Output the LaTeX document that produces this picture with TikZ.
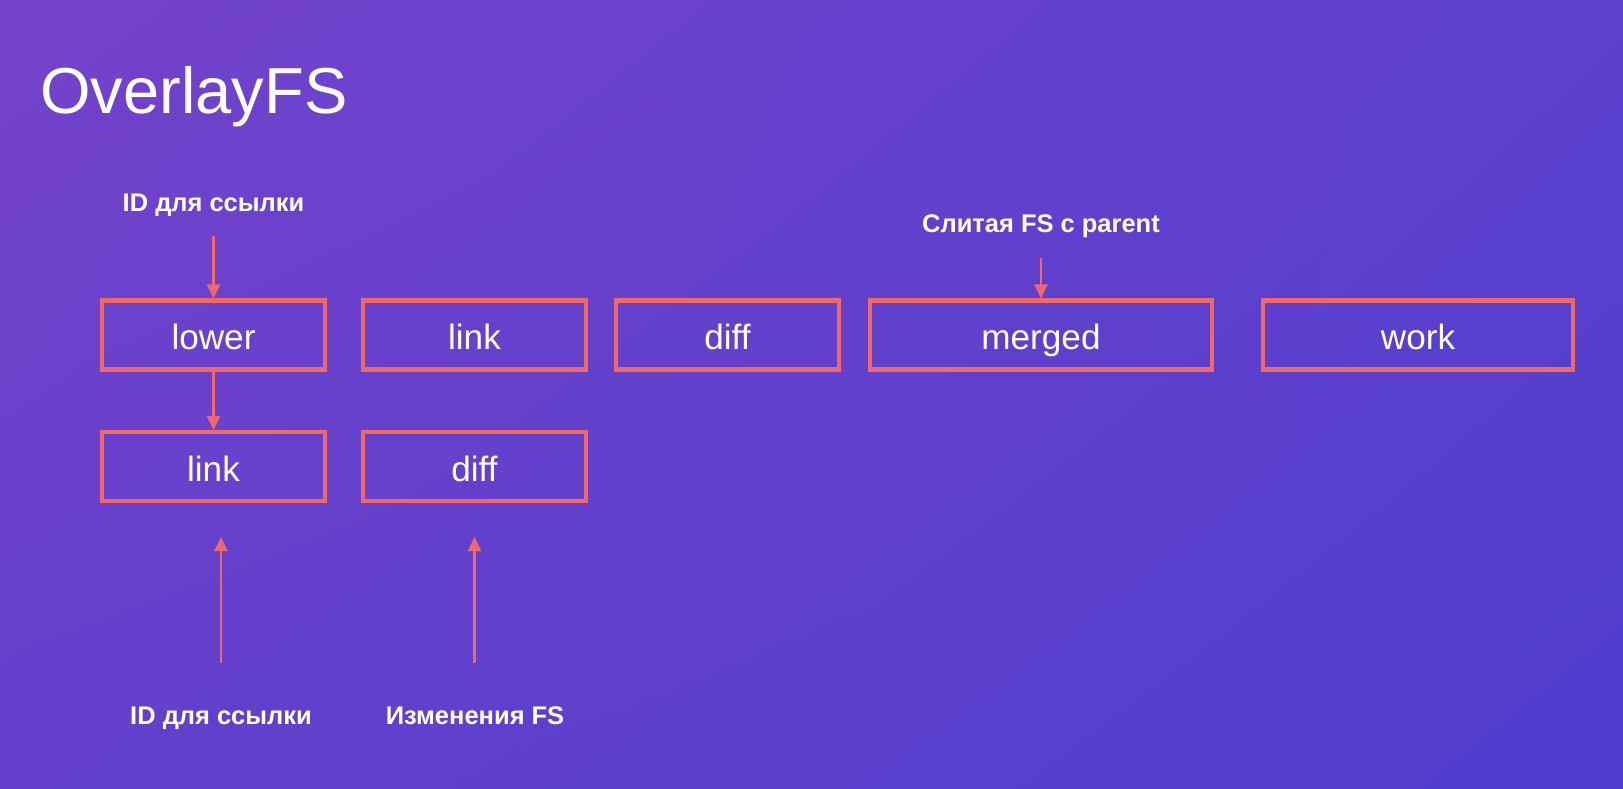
\documentclass[tikz,border=0pt]{standalone}
\usepackage{fontspec}
\setmainfont{Liberation Sans}
\usepackage{tikz}
\usetikzlibrary{arrows.meta, positioning, shadings}
\definecolor{bgtl}{RGB}{116,67,203}
\definecolor{bgtr}{RGB}{92,64,206}
\definecolor{bgbl}{RGB}{100,64,204}
\definecolor{bgbr}{RGB}{80,62,206}
\definecolor{mycoral}{RGB}{240,104,104}
\tikzset{
  fsbox/.style={rectangle, draw=mycoral, line width=2.3pt,
    minimum width=4.46cm, minimum height=1.38cm, inner sep=0pt,
    text=white, font=\fontsize{20}{24}\selectfont,
    text height=17pt, text depth=0pt},
  note/.style={font=\fontsize{14.5}{17}\selectfont\bfseries, text=white,
    anchor=base, inner sep=0pt},
  arrow/.style={-{Triangle[width=0.26cm, length=0.28cm]},
    line width=1.2pt, color=mycoral}
}

\begin{document}
\begin{tikzpicture}[x=0.02cm, y=-0.02cm]
\useasboundingbox (0,0) rectangle (1623,788);
\shade[upper left=bgtl, upper right=bgtr, lower left=bgbl, lower right=bgbr]
  (0,0) rectangle (1623,788);
\node[anchor=base west, inner sep=0pt, text=white,
  font=\fontsize{37}{44}\selectfont] (title) at (40,113) {OverlayFS};
% top row
\node[fsbox] (lower) at (213.5,335) {lower};
\node[fsbox] (link) at (474.5,335) {link};
\node[fsbox] (diff) at (727.5,335) {diff};
\node[fsbox, minimum width=6.84cm] (merged) at (1041,335) {merged};
\node[fsbox, minimum width=6.2cm] (work) at (1418,335) {work};
% bottom row
\node[fsbox] (link2) at (213.5,466.5) {link};
\node[fsbox] (diff2) at (474.5,466.5) {diff};
% notes
\node[note] (idtop) at (213.5,211) {ID для ссылки};
\node[note] (mergenote) at (1041,232) {Слитая FS с parent};
\node[note] (idbot) at (221,724) {ID для ссылки};
\node[note] (changes) at (475,724) {Изменения FS};
\coordinate (idtopend) at (213.5,236);
\coordinate (mergeend) at (1041,258);
\coordinate (idbotend) at (221,663);
\coordinate (idbottip) at (221,537);
\coordinate (chgend) at (474.5,663);
\coordinate (chgtip) at (474.5,537);
\draw[arrow] (idtopend) -- (lower.north);
\draw[arrow] (lower.south) -- (link2.north);
\draw[arrow] (mergeend) -- (merged.north);
\draw[arrow] (idbotend) -- (idbottip);
\draw[arrow] (chgend) -- (chgtip);
\end{tikzpicture}
\end{document}
